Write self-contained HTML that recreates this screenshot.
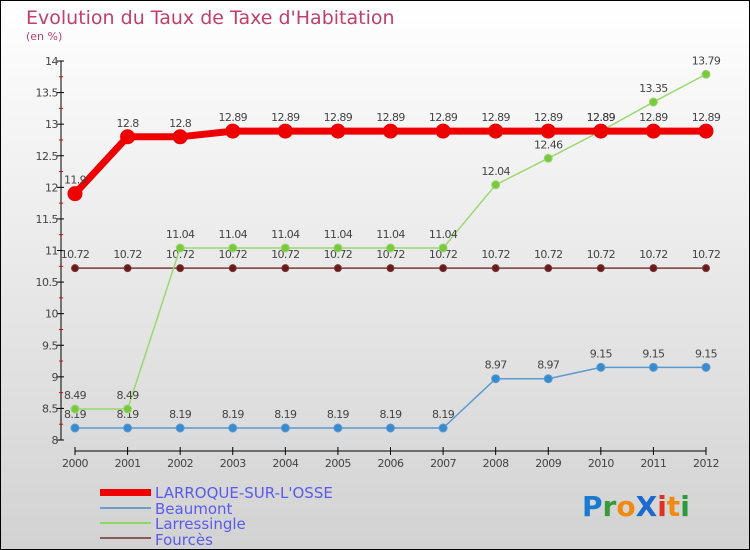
<!DOCTYPE html>
<html><head><meta charset="utf-8"><style>
body{margin:0}
#c{width:750px;height:550px;position:relative;box-sizing:border-box;border:1px solid #000;background:linear-gradient(#fff,#d2d2d2);overflow:hidden;font-family:"DejaVu Sans","Liberation Sans",sans-serif}
</style></head><body>
<div id="c">
<svg id="s" width="750" height="550" style="position:absolute;left:-1px;top:-1px">
<text x="26" y="24" font-size="19" fill="#c0406a">Evolution du Taux de Taxe d'Habitation</text>
<text x="26" y="40" font-size="11" fill="#c0406a">(en %)</text>
<g id="axes"></g><g id="series"></g>
<g font-size="15" fill="#5a5aee">
<rect x="100" y="489" width="51" height="7" fill="#e00"/>
<text x="155" y="498">LARROQUE-SUR-L'OSSE</text>
<rect x="100" y="507" width="51" height="2" fill="#6a9ecc"/>
<text x="155" y="514">Beaumont</text>
<rect x="100" y="522" width="51" height="2" fill="#8ed860"/>
<text x="155" y="529">Larressingle</text>
<rect x="100" y="537" width="51" height="2" fill="#8a5a5a"/>
<text x="155" y="545">Fourcès</text>
</g>
<g font-size="28" font-weight="bold">
<text x="582" y="516"><tspan fill="#1a7ad0">P</tspan><tspan fill="#3a9a3a">r</tspan><tspan fill="#f08a10">o</tspan><tspan fill="#1a6ad0">X</tspan><tspan fill="#e03020">i</tspan><tspan fill="#f08a10">t</tspan><tspan fill="#2a9a3a">i</tspan></text>
</g>
</svg>
</div>
<script>
const years=[2000,2001,2002,2003,2004,2005,2006,2007,2008,2009,2010,2011,2012];
const larroque=[11.9,12.8,12.8,12.89,12.89,12.89,12.89,12.89,12.89,12.89,12.89,12.89,12.89];
const beaumont=[8.19,8.19,8.19,8.19,8.19,8.19,8.19,8.19,8.97,8.97,9.15,9.15,9.15];
const larressingle=[8.49,8.49,11.04,11.04,11.04,11.04,11.04,11.04,12.04,12.46,12.89,13.35,13.79];
const fources=[10.72,10.72,10.72,10.72,10.72,10.72,10.72,10.72,10.72,10.72,10.72,10.72,10.72];
const yTicks=[8,8.5,9,9.5,10,10.5,11,11.5,12,12.5,13,13.5,14];
const NS="http://www.w3.org/2000/svg";
const X=i=>75+i*(631/(years.length-1));
const Y=v=>440-(v-8)*(379/6);
function mk(p,t,a){const e=document.createElementNS(NS,t);for(const k in a)e.setAttribute(k,a[k]);p.appendChild(e);return e;}
const ax=document.getElementById('axes');
let l=mk(ax,'line',{x1:61,y1:Y(14),x2:61,y2:440,stroke:'#000'});


l=mk(ax,'line',{x1:75,y1:451,x2:706,y2:451,stroke:'#000'});


yTicks.forEach((v,i)=>{
 mk(ax,'line',{x1:57,x2:64,y1:Y(v),y2:Y(v),stroke:'#000'});
 if(i<yTicks.length-1)mk(ax,'line',{x1:59,x2:63,y1:Y(v+0.25),y2:Y(v+0.25),stroke:'#e00'});
 const t=mk(ax,'text',{x:58,y:Y(v)+4,'text-anchor':'end','font-size':11,fill:'#444','letter-spacing':'-0.5'});
 t.textContent=v;
 
 
});
years.forEach((yr,i)=>{
 mk(ax,'line',{x1:X(i),x2:X(i),y1:447,y2:455,stroke:'#000'});
 const t=mk(ax,'text',{x:X(i),y:467,'text-anchor':'middle','font-size':11,fill:'#444','letter-spacing':'-0.5'});
 t.textContent=yr;
 
 
});
const sg=document.getElementById('series');
function series(name,vals,color,w,r,dot){
 const g=mk(sg,'g',{});
 
 
 const pl=mk(g,'polyline',{points:vals.map((v,i)=>X(i)+','+Y(v)).join(' '),fill:'none',stroke:color,'stroke-width':w});
 
 
 vals.forEach((v,i)=>{
  const c=mk(g,'circle',{cx:X(i),cy:Y(v),r:r,fill:dot,stroke:color,'stroke-width':1});
  
  
  const t=mk(g,'text',{x:X(i),y:Y(v)-10,'text-anchor':'middle','font-size':11,fill:'#444','letter-spacing':'-0.6'});
  t.textContent=v;
  
  
 });
}
series('fources',fources,'#7a3a3a',1.5,3.5,'#6a1a1a');
series('beaumont',beaumont,'#5a9ad0',1.5,4,'#3a8ad0');
series('larressingle',larressingle,'#9ad870',1.5,4,'#7ac840');
series('larroque',larroque,'#e00',7,7,'#e00');
</script>
</body></html>
